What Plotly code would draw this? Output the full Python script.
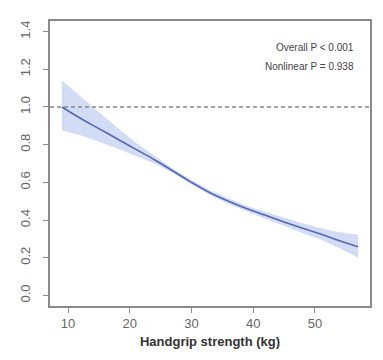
import plotly.graph_objects as go

x_vals = [9, 12, 15, 18, 21, 24, 27, 30, 33, 36, 39, 42, 45, 48, 51, 54, 57]
hr = [1.00, 0.94, 0.885, 0.83, 0.775, 0.72, 0.66, 0.60, 0.545, 0.50, 0.46, 0.425, 0.39, 0.357, 0.325, 0.29, 0.258]
upper = [1.14, 1.055, 0.97, 0.89, 0.81, 0.74, 0.672, 0.612, 0.557, 0.515, 0.475, 0.443, 0.412, 0.383, 0.357, 0.335, 0.322]
lower = [0.875, 0.85, 0.815, 0.78, 0.742, 0.70, 0.648, 0.588, 0.533, 0.485, 0.445, 0.407, 0.368, 0.331, 0.295, 0.25, 0.20]
x_ticks = [10, 20, 30, 40, 50]
y_ticks = [0.0, 0.2, 0.4, 0.6, 0.8, 1.0, 1.2, 1.4]
ref_line = 1.0
annot_lines = ["Overall P < 0.001", "Nonlinear P = 0.938"]
x_title = "Handgrip strength (kg)"

fig = go.Figure()
fig.add_trace(go.Scatter(x=x_vals + x_vals[::-1], y=upper + lower[::-1], fill="toself",
                         fillcolor="rgba(165,185,235,0.5)", line=dict(width=0),
                         mode="lines", hoverinfo="skip", showlegend=False))
fig.add_trace(go.Scatter(x=x_vals, y=hr, mode="lines", line=dict(color="#5468b8", width=1.6, shape="spline"),
                         showlegend=False))
fig.add_shape(type="line", xref="paper", x0=0, x1=1, yref="y", y0=ref_line, y1=ref_line,
              line=dict(color="#888888", width=1.5, dash="4px,3px"))

fig.add_annotation(xref="paper", yref="paper", x=0.955, y=0.908, xanchor="right", yanchor="middle",
                   text=annot_lines[0], showarrow=False, font=dict(size=10, color="#444444", family="Liberation Sans"))
fig.add_annotation(xref="paper", yref="paper", x=0.955, y=0.842, xanchor="right", yanchor="middle",
                   text=annot_lines[1], showarrow=False, font=dict(size=10, color="#444444", family="Liberation Sans"))

axis_common = dict(showline=True, mirror=True, linecolor="#8a8a8a", linewidth=1.5, showgrid=False,
                   zeroline=False, ticks="outside", ticklen=5, tickcolor="#8a8a8a", tickwidth=1,
                   automargin=False,
                   tickfont=dict(size=13, color="#666666", family="Liberation Sans"))
fig.update_xaxes(range=[7.08, 58.92], tickvals=x_ticks, **axis_common,
                 title=dict(text="<b>" + x_title + "</b>", font=dict(size=13, color="#333333", family="Liberation Sans"), standoff=7))
fig.update_yaxes(range=[-0.056, 1.456], tickvals=y_ticks, ticktext=[f"{v:.1f}" for v in y_ticks],
                 tickangle=-90, ticklabelstandoff=8, **axis_common)

fig.update_layout(width=383, height=360, margin=dict(l=42, r=21, t=13, b=62),
                  plot_bgcolor="white", paper_bgcolor="white")
fig.write_html("out.html")
